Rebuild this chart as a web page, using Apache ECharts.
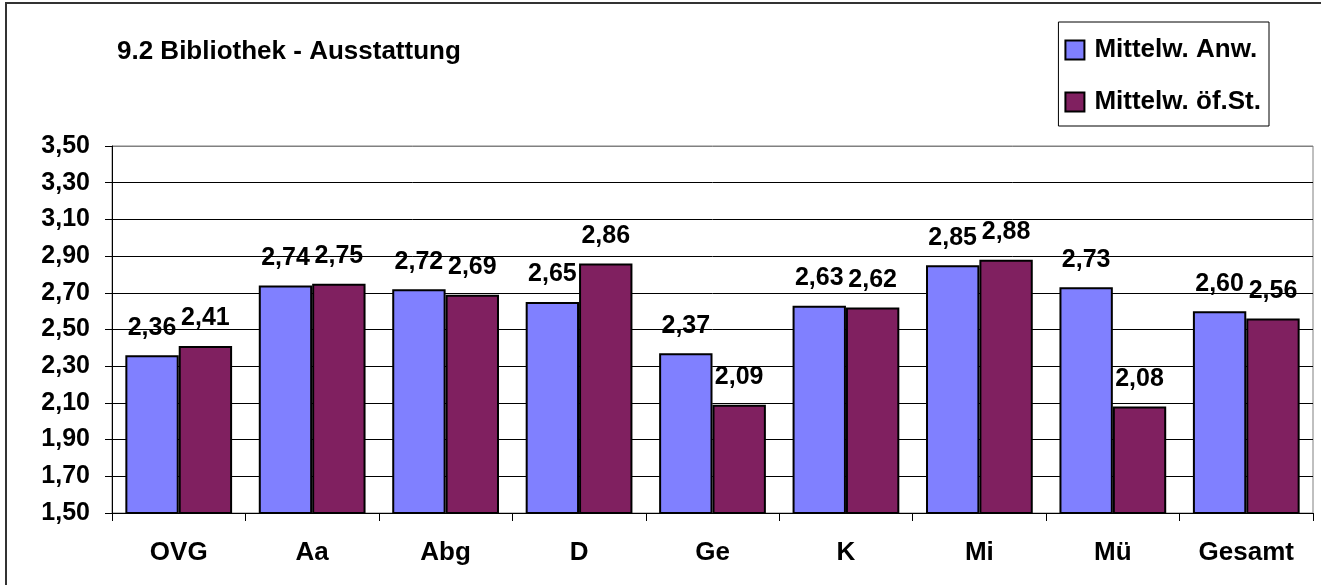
<!DOCTYPE html>
<html lang="de">
<head>
<meta charset="UTF-8" />
<title>9.2 Bibliothek - Ausstattung</title>
<script src="https://cdnjs.cloudflare.com/ajax/libs/echarts/6.0.0/echarts.min.js"></script>
<style>
  * { margin: 0; padding: 0; }
  body { background: #fff; }
  #chart { width: 1321px; height: 585px; }
</style>
</head>
<body>
<div id="chart"></div>
<script>
  const categories = ["OVG", "Aa", "Abg", "D", "Ge", "K", "Mi", "Mü", "Gesamt"];
  const anwValues = [2.36, 2.74, 2.72, 2.65, 2.37, 2.63, 2.85, 2.73, 2.60];
  const oefValues = [2.41, 2.75, 2.69, 2.86, 2.09, 2.62, 2.88, 2.08, 2.56];
  const seriesNames = ["Mittelw. Anw.", "Mittelw. öf.St."];

  const font = "'Liberation Sans', Arial, sans-serif";
  const fmt = (v) => v.toFixed(2).replace(".", ",");

  // split line colours: black everywhere, top edge grey like the frame
  const splitColors = [];
  for (let i = 0; i < 10; i++) splitColors.push("#000");
  splitColors.push("#808080");

  const chart = echarts.init(document.getElementById("chart"));
  const label = {
    show: true,
    position: "top",
    distance: 15,
    fontFamily: font,
    fontWeight: "bold",
    fontSize: 25,
    color: "#000",
    formatter: (p) => fmt(p.value),
  };

  chart.setOption({
    animation: false,
    textStyle: { fontFamily: font },
    graphic: [
      {
        type: "rect",
        shape: { x: 6, y: 3, width: 1320, height: 590 },
        style: { fill: "none", stroke: "#333", lineWidth: 2 },
        z: -1,
      },
    ],
    title: {
      text: "9.2 Bibliothek - Ausstattung",
      left: 112,
      top: 34,
      textStyle: { fontFamily: font, fontWeight: "bold", fontSize: 26, color: "#000" },
    },
    legend: {
      orient: "vertical",
      right: 52,
      top: 22,
      padding: [15, 8, 11, 6],
      itemGap: 26,
      itemWidth: 19,
      itemHeight: 19,
      borderColor: "#000",
      borderWidth: 1,
      icon: "rect",
      textStyle: { fontFamily: font, fontWeight: "bold", fontSize: 26, color: "#000", padding: [0, 0, 0, 5] },
      data: seriesNames,
    },
    grid: {
      left: 112,
      right: 8,
      top: 146,
      bottom: 72,
      show: true,
      borderColor: "#808080",
      borderWidth: 1,
    },
    xAxis: {
      type: "category",
      data: categories,
      axisLine: { lineStyle: { color: "#000", width: 1 } },
      axisTick: { show: true, length: 8, lineStyle: { color: "#000" } },
      axisLabel: { fontFamily: font, fontWeight: "bold", fontSize: 26, color: "#000", margin: 27 },
    },
    yAxis: {
      type: "value",
      min: 1.5,
      max: 3.5,
      interval: 0.2,
      axisLine: { show: true, lineStyle: { color: "#000", width: 1 } },
      axisTick: { show: true, length: 7, lineStyle: { color: "#000" } },
      axisLabel: { fontFamily: font, fontWeight: "bold", fontSize: 25, color: "#000", margin: 22, formatter: fmt },
      splitLine: { show: true, lineStyle: { color: splitColors, width: 1 } },
    },
    series: [
      {
        name: seriesNames[0],
        type: "bar",
        data: anwValues,
        barGap: "0%",
        barCategoryGap: "20%",
        itemStyle: { color: "#8080ff", borderColor: "#000", borderWidth: 2 },
        label: label,
      },
      {
        name: seriesNames[1],
        type: "bar",
        data: oefValues,
        itemStyle: { color: "#802060", borderColor: "#000", borderWidth: 2 },
        label: label,
      },
    ],
  });
</script>
</body>
</html>
